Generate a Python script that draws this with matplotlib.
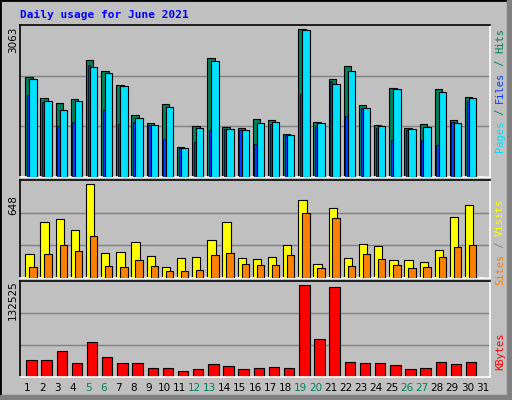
import numpy as np
import matplotlib
matplotlib.use("Agg")
import matplotlib.pyplot as plt

days = list(range(1, 32))
hits = [2020, 1582, 1501, 1562, 2349, 2134, 1844, 1259, 1097, 1461, 613, 1037, 2390, 1017, 983,
        1178, 1158, 875, 2975, 1118, 1966, 2228, 1441, 1057, 1784, 996, 1077, 1764, 1158, 1622, 0]
files = [1966, 1528, 1346, 1528, 2208, 2087, 1824, 1198, 1057, 1420, 592, 996, 2329, 976, 956,
         1097, 1118, 855, 2955, 1097, 1865, 2127, 1400, 1037, 1764, 976, 1017, 1703, 1097, 1582, 0]
pages = [1649, 1515, 1023, 1104, 2255, 1346, 1077, 1104, 1043, 761, 579, 700, 942, 963, 942,
         660, 1077, 855, 1670, 1023, 1925, 1225, 1400, 996, 741, 942, 741, 640, 1118, 1528, 0]
visits = [157, 372, 392, 318, 621, 164, 170, 238, 143, 70, 130, 137, 251, 372, 130,
          123, 137, 217, 513, 90, 460, 130, 224, 211, 117, 117, 103, 184, 406, 480, 0]
sites = [72, 157, 217, 177, 278, 78, 72, 117, 78, 49, 49, 56, 150, 164, 90,
         83, 83, 150, 433, 63, 399, 78, 157, 123, 83, 63, 70, 137, 204, 217, 0]
kbytes = [24097, 24097, 35218, 19926, 47730, 28267, 19926, 19926, 12975, 12975, 8805, 11585,
          18536, 15756, 11585, 12975, 14365, 12975, 126972, 51901, 124192, 21316, 19926,
          19926, 17146, 11585, 12975, 21316, 18536, 21316, 0]
weekend = [5, 6, 12, 13, 19, 20, 26, 27]
max_hits, max_visits, max_kb = 3063, 648, 132525

W, H = 512, 400
fig = plt.figure(figsize=(W / 100, H / 100), dpi=100, facecolor="#C0C0C0")
plt.rcParams['font.family'] = 'DejaVu Sans Mono'

# outer border
fig.patches.append(plt.Rectangle((0, 0), 1, 1, transform=fig.transFigure, fill=False,
                                 edgecolor="black", lw=2))
fig.patches.append(plt.Rectangle((507 / W, 0), 5 / W, 1, transform=fig.transFigure,
                                 color="#808080"))
fig.patches.append(plt.Rectangle((0, 0), 1, 5 / H, transform=fig.transFigure,
                                 color="#808080"))

fig.text(20 / W, 1 - 15 / H, "Daily usage for June 2021", color="#0000FF",
         fontsize=8, fontweight="bold", va="center", ha="left")

x = np.array(days, dtype=float)


def panel(top, bottom, ymax):
    ax = fig.add_axes([20 / W, 1 - bottom / H, 470 / W, (bottom - top) / H])
    ax.set_facecolor("#C0C0C0")
    ax.set_xlim(0.5, 31.5)
    ax.set_ylim(0, ymax)
    ax.set_xticks([])
    ax.set_yticks([])
    for y in (ymax / 3, 2 * ymax / 3):
        ax.axhline(y, color="#808080", lw=1, zorder=0)
    for s in ("left", "top"):
        ax.spines[s].set_color("black")
    for s in ("right", "bottom"):
        ax.spines[s].set_color("white")
    for s in ax.spines.values():
        s.set_linewidth(1.2)
    return ax


ec = dict(edgecolor="black", linewidth=0.8, align="edge")

ax1 = panel(25, 177, max_hits)
ax1.bar(x - 0.15, hits, width=0.49, color="#00805C", zorder=2, **ec)
ax1.bar(x - 0.04, pages, width=0.15, color="#0040FF", zorder=3, edgecolor="black",
        linewidth=0.5, align="edge")
ax1.bar(x + 0.11, files, width=0.49, color="#00E0FF", zorder=4, **ec)

ax2 = panel(180, 278, max_visits)
ax2.bar(x - 0.15, visits, width=0.55, color="#FFFF00", zorder=2, **ec)
ax2.bar(x + 0.11, sites, width=0.49, color="#FF8000", zorder=3, **ec)

ax3 = panel(281, 377, max_kb)
ax3.bar(x - 0.09, kbytes, width=0.69, color="#FF0000", zorder=2, **ec)

# left max labels
for ypx, lab in ((40, str(max_hits)), (205, str(max_visits)), (300, str(max_kb))):
    fig.text(13 / W, 1 - ypx / H, lab, rotation=90, fontsize=7.5, ha="center",
             va="center", color="black", family="DejaVu Sans")

# right legends
def rlabel(parts, ytop):
    y = ytop
    for txt, col in parts:
        t = fig.text(500 / W, 1 - y / H, txt, rotation=90, fontsize=7.5, color=col,
                     ha="center", va="top")
        y += 6.2 * len(txt)

rlabel([("Pages", "#00E0FF"), (" / ", "#00805C"), ("Files", "#0040FF"),
        (" / ", "#00805C"), ("Hits", "#00805C")][::-1], 28)
rlabel([("Sites", "#FF8000"), (" / ", "#808080"), ("Visits", "#FFFF00")][::-1], 198)
rlabel([("KBytes", "#FF0000")], 333)

for d in days:
    col = "#00805C" if d in weekend else "black"
    ax3.text(d, -0.11 * max_kb, str(d), color=col, fontsize=7.5, ha="center", va="center",
             family="DejaVu Sans")

fig.savefig("out.png", dpi=100, facecolor=fig.get_facecolor())
